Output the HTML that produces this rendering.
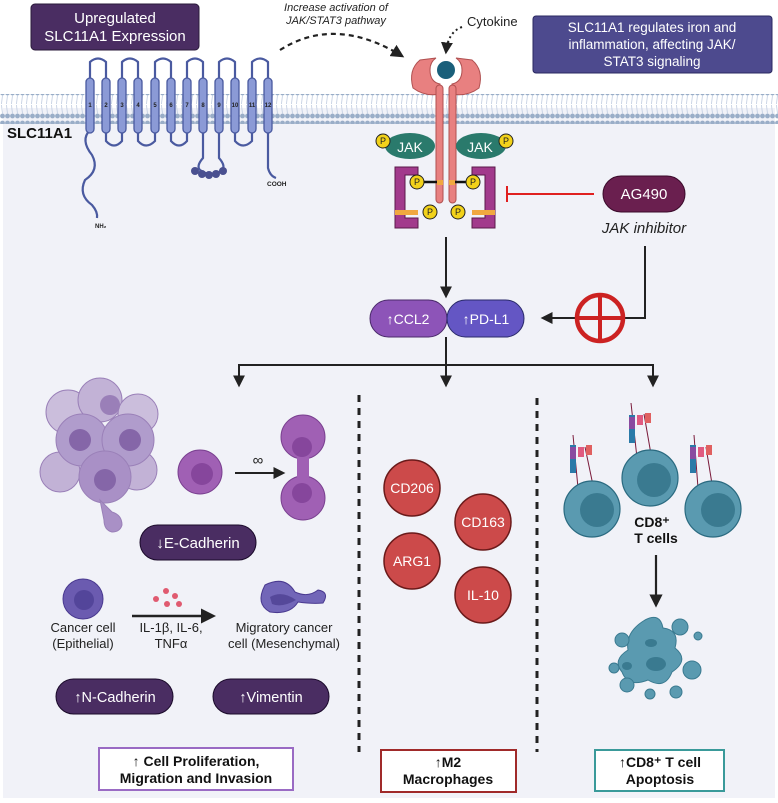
<!DOCTYPE html>
<html><head><meta charset="utf-8"><style>
html,body{margin:0;padding:0;background:#fff}
svg{display:block}
text{font-family:"Liberation Sans",sans-serif}
</style></head><body>
<svg width="778" height="803" viewBox="0 0 778 803" xmlns="http://www.w3.org/2000/svg">
<defs>
<marker id="ah" viewBox="0 0 10 10" refX="8" refY="5" markerWidth="6" markerHeight="6" orient="auto"><path d="M0,0 L10,5 L0,10z" fill="#222"/></marker>
<pattern id="mem" width="5" height="30" patternUnits="userSpaceOnUse">
<circle cx="2.5" cy="3" r="2.4" fill="#9aaec8"/><circle cx="2.5" cy="26" r="2.4" fill="#9aaec8"/>
<line x1="2.5" y1="5" x2="1.5" y2="14" stroke="#c0cce0" stroke-width="0.8"/><line x1="2.5" y1="24" x2="1.5" y2="15" stroke="#c0cce0" stroke-width="0.8"/>
</pattern>
</defs>
<rect x="3" y="108" width="772" height="690" fill="#f1f2f8"/>
<rect x="0" y="94" width="778" height="30" fill="url(#mem)"/>
<rect x="31" y="4" width="168" height="46" rx="4" fill="#4a2d62" stroke="#2a1a3a"/>
<text x="115" y="23" font-size="15" fill="#fff" text-anchor="middle">Upregulated</text>
<text x="115" y="41" font-size="15" fill="#fff" text-anchor="middle">SLC11A1 Expression</text>
<rect x="533" y="16" width="239" height="57" rx="3" fill="#4d4a8e" stroke="#2a2860"/>
<text x="652" y="32" font-size="13.5" fill="#fff" text-anchor="middle">SLC11A1 regulates iron and</text>
<text x="652" y="49" font-size="13.5" fill="#fff" text-anchor="middle">inflammation, affecting JAK/</text>
<text x="652" y="66" font-size="13.5" fill="#fff" text-anchor="middle">STAT3 signaling</text>
<text x="336" y="11" font-size="11" font-style="italic" fill="#222" text-anchor="middle">Increase activation of</text>
<text x="336" y="24" font-size="11" font-style="italic" fill="#222" text-anchor="middle">JAK/STAT3 pathway</text>
<path d="M280,50 Q335,15 402,56" fill="none" stroke="#222" stroke-width="2.2" stroke-dasharray="5,4" marker-end="url(#ah)"/>
<text x="7" y="138" font-size="15" font-weight="bold" fill="#111">SLC11A1</text>
<g fill="none" stroke="#4a5aa0" stroke-width="2.2">
<path d="M90,80 V62 Q98,55 106,62 V80"/><path d="M122,80 V62 Q130,55 138,62 V80"/><path d="M155,80 V62 Q163,55 171,62 V80"/><path d="M187,80 V62 Q195,55 203,62 V80"/><path d="M219,80 V62 Q227,55 235,62 V80"/><path d="M252,80 V62 Q260,55 268,62 V80"/>
<path d="M106,130 V141 Q114,150 122,141 V130"/><path d="M138,130 V141 Q146,150 155,141 V130"/><path d="M171,130 V141 Q179,150 187,141 V130"/><path d="M235,130 V141 Q243,150 252,141 V130"/>
<path d="M203,130 V158 Q196,166 200,170 Q211,178 222,170 Q226,166 219,158 V130"/>
<path d="M90,130 Q80,140 92,155 Q100,170 85,180 Q78,195 92,205 Q98,212 97,218"/>
<path d="M268,130 V168 Q270,176 276,178"/>
</g>
<g fill="#4a5090"><circle cx="195" cy="171" r="4"/><circle cx="202" cy="174" r="4"/><circle cx="209" cy="175" r="4"/><circle cx="216" cy="174" r="4"/><circle cx="223" cy="171" r="4"/></g>
<g fill="#8b9ad6" stroke="#4a5aa0" stroke-width="1.3">
<rect x="86" y="78" width="8" height="55" rx="4"/><rect x="102" y="78" width="8" height="55" rx="4"/><rect x="118" y="78" width="8" height="55" rx="4"/><rect x="134" y="78" width="8" height="55" rx="4"/><rect x="151" y="78" width="8" height="55" rx="4"/><rect x="167" y="78" width="8" height="55" rx="4"/><rect x="183" y="78" width="8" height="55" rx="4"/><rect x="199" y="78" width="8" height="55" rx="4"/><rect x="215" y="78" width="8" height="55" rx="4"/><rect x="231" y="78" width="8" height="55" rx="4"/><rect x="248" y="78" width="8" height="55" rx="4"/><rect x="264" y="78" width="8" height="55" rx="4"/>
</g>
<g font-size="6" font-weight="bold" fill="#222" text-anchor="middle">
<text x="90" y="107">1</text><text x="106" y="107">2</text><text x="122" y="107">3</text><text x="138" y="107">4</text><text x="155" y="107">5</text><text x="171" y="107">6</text><text x="187" y="107">7</text><text x="203" y="107">8</text><text x="219" y="107">9</text><text x="235" y="107">10</text><text x="252" y="107">11</text><text x="268" y="107">12</text>
</g>
<text x="95" y="228" font-size="6" font-weight="bold" fill="#222">NH₂</text>
<text x="267" y="186" font-size="6.5" font-weight="bold" fill="#222">COOH</text>
<text x="467" y="26" font-size="13" fill="#222">Cytokine</text>
<path d="M462,27 Q448,32 446,52" fill="none" stroke="#222" stroke-width="2" stroke-dasharray="2,3" marker-end="url(#ah)"/>
<path d="M420,60 Q408,70 413,88 Q425,97 440,94 L440,84 Q430,82 430,70 Q430,62 436,58 Z M472,60 Q484,70 479,88 Q467,97 452,94 L452,84 Q462,82 462,70 Q462,62 456,58 Z" fill="#e88080" stroke="#b05050" stroke-width="1"/>
<rect x="436" y="85" width="7" height="118" rx="3.5" fill="#e88080" stroke="#b05050"/>
<rect x="449" y="85" width="7" height="118" rx="3.5" fill="#e88080" stroke="#b05050"/>
<circle cx="446" cy="70" r="10" fill="#1a5f7a" stroke="#fff" stroke-width="2"/>
<ellipse cx="410" cy="146" rx="25" ry="13" fill="#2a7a6c"/><ellipse cx="481" cy="146" rx="25" ry="13" fill="#2a7a6c"/>
<text x="410" y="152" font-size="14" fill="#fff" text-anchor="middle">JAK</text>
<text x="480" y="152" font-size="14" fill="#fff" text-anchor="middle">JAK</text>
<path d="M395,167 H418 V175 H405 V218 H418 V228 H395 Z" fill="#a23a8c" stroke="#5a1a4a"/>
<path d="M495,167 H472 V175 H485 V218 H472 V228 H495 Z" fill="#a23a8c" stroke="#5a1a4a"/>
<rect x="395" y="210" width="23" height="5" fill="#f0a840"/><rect x="472" y="210" width="23" height="5" fill="#f0a840"/>
<rect x="437" y="180" width="6" height="5" fill="#f0a840"/><rect x="449" y="180" width="6" height="5" fill="#f0a840"/>
<line x1="417" y1="182" x2="437" y2="182" stroke="#111" stroke-width="2.5"/><line x1="455" y1="182" x2="473" y2="182" stroke="#111" stroke-width="2.5"/>
<g fill="#f2d21a" stroke="#222" stroke-width="1"><circle cx="383" cy="141" r="7"/><circle cx="506" cy="141" r="7"/><circle cx="417" cy="182" r="7"/><circle cx="473" cy="182" r="7"/><circle cx="430" cy="212" r="7"/><circle cx="458" cy="212" r="7"/></g>
<g font-size="9" fill="#222" text-anchor="middle"><text x="383" y="144">P</text><text x="506" y="144">P</text><text x="417" y="185">P</text><text x="473" y="185">P</text><text x="430" y="215">P</text><text x="458" y="215">P</text></g>
<line x1="594" y1="194" x2="507" y2="194" stroke="#e02020" stroke-width="2"/><line x1="507" y1="186" x2="507" y2="202" stroke="#e02020" stroke-width="2"/>
<rect x="603" y="176" width="82" height="36" rx="18" fill="#6a1f4f" stroke="#3a0a2a"/>
<text x="644" y="199" font-size="15" fill="#fff" text-anchor="middle">AG490</text>
<text x="644" y="233" font-size="15" font-style="italic" fill="#222" text-anchor="middle">JAK inhibitor</text>
<path d="M645,246 V318 H543" fill="none" stroke="#222" stroke-width="2" marker-end="url(#ah)"/>
<circle cx="600" cy="318" r="23" fill="none" stroke="#cc2222" stroke-width="4.5"/>
<line x1="600" y1="295" x2="600" y2="341" stroke="#cc2222" stroke-width="4"/>
<line x1="577" y1="318" x2="623" y2="318" stroke="#cc2222" stroke-width="4"/>
<line x1="446" y1="237" x2="446" y2="296" stroke="#222" stroke-width="2" marker-end="url(#ah)"/>
<rect x="370" y="300" width="77" height="37" rx="18.5" fill="#8d54b8" stroke="#4a2a6a"/>
<rect x="447" y="300" width="77" height="37" rx="18.5" fill="#6456c4" stroke="#2a2a6a"/>
<text x="408" y="324" font-size="14" fill="#fff" text-anchor="middle">↑CCL2</text>
<text x="486" y="324" font-size="14" fill="#fff" text-anchor="middle">↑PD-L1</text>
<line x1="446" y1="337" x2="446" y2="365" stroke="#222" stroke-width="2"/>
<line x1="238" y1="365" x2="653" y2="365" stroke="#222" stroke-width="2"/>
<line x1="239" y1="364" x2="239" y2="385" stroke="#222" stroke-width="2" marker-end="url(#ah)"/>
<line x1="446" y1="364" x2="446" y2="385" stroke="#222" stroke-width="2" marker-end="url(#ah)"/>
<line x1="653" y1="364" x2="653" y2="385" stroke="#222" stroke-width="2" marker-end="url(#ah)"/>
<line x1="359" y1="395" x2="359" y2="752" stroke="#222" stroke-width="3" stroke-dasharray="7,6"/>
<line x1="537" y1="398" x2="537" y2="752" stroke="#222" stroke-width="3" stroke-dasharray="7,6"/>
<g stroke="#9a80b8" stroke-width="1">
<circle cx="68" cy="412" r="22" fill="#cbbedc"/><circle cx="100" cy="400" r="22" fill="#c2b2d6"/><circle cx="138" cy="414" r="20" fill="#cbbedc"/>
<circle cx="60" cy="472" r="20" fill="#c2b2d6"/><circle cx="137" cy="470" r="20" fill="#c2b2d6"/>
<circle cx="82" cy="440" r="26" fill="#b09ccc"/><circle cx="128" cy="440" r="26" fill="#b09ccc"/>
<circle cx="105" cy="477" r="26" fill="#a990c6"/>
<path d="M100,500 L112,512 Q122,515 122,525 Q120,532 112,532 Q104,530 104,520 Z" fill="#a990c6"/>
</g>
<g fill="#8566a8"><circle cx="80" cy="440" r="11"/><circle cx="130" cy="440" r="11"/><circle cx="105" cy="480" r="11"/><circle cx="110" cy="405" r="10" fill="#9a7fb8"/></g>
<circle cx="200" cy="472" r="22" fill="#a060b4" stroke="#7a4090"/><circle cx="202" cy="474" r="11" fill="#86469c"/>
<text x="258" y="465" font-size="15" fill="#222" text-anchor="middle">∞</text>
<line x1="235" y1="473" x2="283" y2="473" stroke="#222" stroke-width="2" marker-end="url(#ah)"/>
<circle cx="303" cy="437" r="22" fill="#a060b4" stroke="#7a4090"/><circle cx="303" cy="498" r="22" fill="#a060b4" stroke="#7a4090"/>
<rect x="297" y="450" width="12" height="36" fill="#a060b4"/><circle cx="302" cy="447" r="10" fill="#86469c"/><circle cx="302" cy="493" r="10" fill="#86469c"/>
<rect x="140" y="525" width="116" height="35" rx="17.5" fill="#4a2d62" stroke="#1a0a2a"/>
<text x="198" y="548" font-size="15" fill="#fff" text-anchor="middle">↓E-Cadherin</text>
<circle cx="83" cy="599" r="20" fill="#6b5bb0" stroke="#4a3a90"/><circle cx="84" cy="600" r="10" fill="#53459a"/>
<g fill="#e05a70"><circle cx="166" cy="591" r="3"/><circle cx="175" cy="596" r="3"/><circle cx="156" cy="599" r="3"/><circle cx="167" cy="604" r="3"/><circle cx="179" cy="604" r="3"/></g>
<line x1="132" y1="616" x2="213" y2="616" stroke="#222" stroke-width="2.5" marker-end="url(#ah)"/>
<path d="M265,585 Q285,575 295,592 Q308,598 318,590 Q330,592 323,603 Q312,604 298,602 Q290,615 270,612 Q255,604 265,585 Z" fill="#7266b8" stroke="#4a3a90"/>
<path d="M270,597 Q282,590 296,600 Q282,608 272,604 Z" fill="#55489a"/>
<g font-size="13" fill="#222" text-anchor="middle">
<text x="83" y="632">Cancer cell</text><text x="83" y="648">(Epithelial)</text>
<text x="171" y="632">IL-1β, IL-6,</text><text x="171" y="648">TNFα</text>
<text x="284" y="632">Migratory cancer</text><text x="284" y="648">cell (Mesenchymal)</text>
</g>
<rect x="56" y="679" width="117" height="35" rx="17.5" fill="#4a2d62" stroke="#1a0a2a"/>
<text x="115" y="702" font-size="14.5" fill="#fff" text-anchor="middle">↑N-Cadherin</text>
<rect x="213" y="679" width="116" height="35" rx="17.5" fill="#4a2d62" stroke="#1a0a2a"/>
<text x="271" y="702" font-size="14.5" fill="#fff" text-anchor="middle">↑Vimentin</text>
<rect x="99" y="748" width="194" height="42" fill="#fff" stroke="#9a6bc4" stroke-width="2"/>
<text x="196" y="766" font-size="14" font-weight="bold" fill="#111" text-anchor="middle">↑ Cell Proliferation,</text>
<text x="196" y="783" font-size="14" font-weight="bold" fill="#111" text-anchor="middle">Migration and Invasion</text>
<g fill="#cc4a4a" stroke="#6a1a1a" stroke-width="1.5"><circle cx="412" cy="488" r="28"/><circle cx="483" cy="522" r="28"/><circle cx="412" cy="561" r="28"/><circle cx="483" cy="595" r="28"/></g>
<g font-size="14" fill="#fff" text-anchor="middle"><text x="412" y="493">CD206</text><text x="483" y="527">CD163</text><text x="412" y="566">ARG1</text><text x="483" y="600">IL-10</text></g>
<rect x="381" y="750" width="135" height="42" fill="#fff" stroke="#a02a2a" stroke-width="2"/>
<text x="448" y="767" font-size="14" font-weight="bold" fill="#111" text-anchor="middle">↑M2</text>
<text x="448" y="784" font-size="14" font-weight="bold" fill="#111" text-anchor="middle">Macrophages</text>
<g stroke="#7a1a3a" stroke-width="1"><line x1="573" y1="435" x2="578" y2="488"/><line x1="585" y1="447" x2="594" y2="490"/><line x1="631" y1="403" x2="637" y2="458"/><line x1="644" y1="414" x2="652" y2="460"/><line x1="694" y1="435" x2="698" y2="488"/><line x1="706" y1="447" x2="713" y2="490"/></g>
<g><rect x="570" y="445" width="6" height="28" fill="#2a7aa8"/><rect x="570" y="447" width="6" height="12" fill="#8a4aa0"/><rect x="578" y="447" width="6" height="10" fill="#e05a80"/><rect x="586" y="445" width="6" height="10" fill="#e06060"/>
<rect x="629" y="415" width="6" height="28" fill="#2a7aa8"/><rect x="629" y="417" width="6" height="12" fill="#8a4aa0"/><rect x="637" y="415" width="6" height="10" fill="#e05a80"/><rect x="645" y="413" width="6" height="10" fill="#e06060"/>
<rect x="690" y="445" width="6" height="28" fill="#2a7aa8"/><rect x="690" y="447" width="6" height="12" fill="#8a4aa0"/><rect x="698" y="447" width="6" height="10" fill="#e05a80"/><rect x="706" y="445" width="6" height="10" fill="#e06060"/></g>
<g fill="#5a9ab0" stroke="#2a6a80" stroke-width="1.2"><circle cx="592" cy="509" r="28"/><circle cx="650" cy="478" r="28"/><circle cx="713" cy="509" r="28"/></g>
<g fill="#3a7a90"><circle cx="597" cy="510" r="17"/><circle cx="654" cy="480" r="17"/><circle cx="718" cy="510" r="17"/></g>
<text x="652" y="527" font-size="14" font-weight="bold" fill="#111" text-anchor="middle">CD8⁺</text>
<text x="656" y="543" font-size="14" font-weight="bold" fill="#111" text-anchor="middle">T cells</text>
<line x1="656" y1="555" x2="656" y2="605" stroke="#222" stroke-width="2.2" marker-end="url(#ah)"/>
<g fill="#5a9ab0" stroke="#3a7a90"><path d="M645,620 Q660,612 663,628 Q680,630 675,648 Q690,660 672,672 Q665,690 648,680 Q628,688 622,672 Q612,660 628,650 Q625,632 645,620 Z"/><circle cx="622" cy="640" r="7"/><circle cx="680" cy="627" r="8"/><circle cx="698" cy="636" r="4"/><circle cx="692" cy="670" r="9"/><circle cx="627" cy="685" r="7"/><circle cx="676" cy="692" r="6"/><circle cx="614" cy="668" r="5"/><circle cx="650" cy="694" r="5"/></g>
<g fill="#3a7a90"><ellipse cx="656" cy="664" rx="10" ry="7"/><ellipse cx="651" cy="643" rx="6" ry="4"/><ellipse cx="627" cy="666" rx="5" ry="4"/></g>
<rect x="595" y="750" width="129" height="41" fill="#fff" stroke="#3a9a9a" stroke-width="2"/>
<text x="660" y="767" font-size="14" font-weight="bold" fill="#111" text-anchor="middle">↑CD8⁺ T cell</text>
<text x="660" y="784" font-size="14" font-weight="bold" fill="#111" text-anchor="middle">Apoptosis</text>
</svg>
</body></html>
